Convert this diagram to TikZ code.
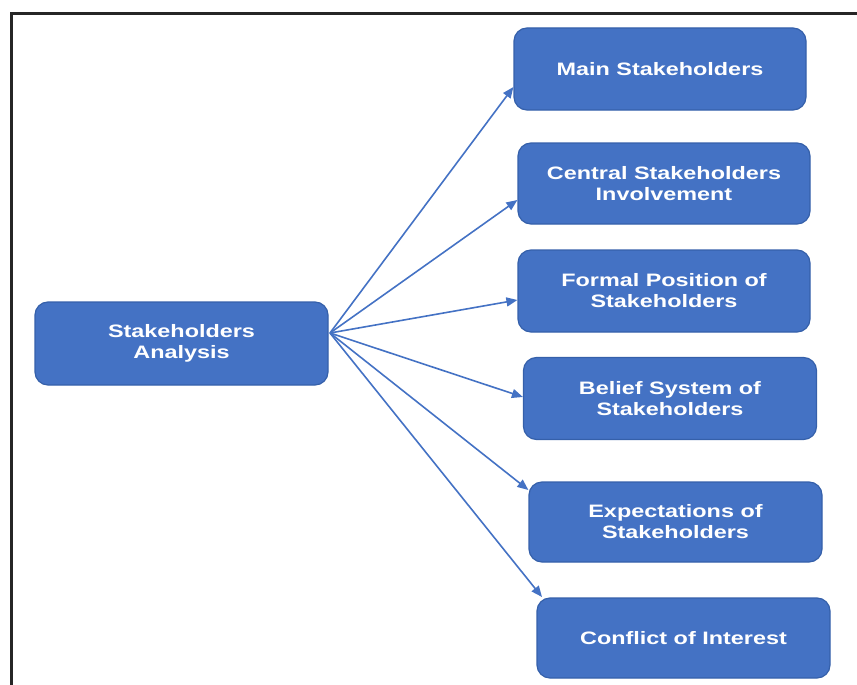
\documentclass[tikz,border=0pt]{standalone}
\usepackage{fontspec}
\newfontfamily\boxfont[FakeStretch=1.3]{Liberation Sans Bold}
\usetikzlibrary{arrows.meta}
\definecolor{boxfill}{HTML}{4472C4}
\definecolor{boxline}{HTML}{3560AA}
\definecolor{arrowcol}{HTML}{4472C4}
\tikzset{
  box/.style={draw=boxline, line width=1.2pt, fill=boxfill, rounded corners=13pt,
    text=white, font=\boxfont\fontsize{18}{21}\selectfont, align=center,
    minimum width=292pt, minimum height=82pt, inner sep=0pt},
  conn/.style={draw=arrowcol, line width=1.6pt,
    -{Triangle[length=11pt,width=9pt]}},
  frame/.style={draw=black!85, line width=2.2pt}
}
\begin{document}
\begin{tikzpicture}[x=1pt,y=-1pt]
\useasboundingbox (0,0) rectangle (857,685);
\draw[frame] (11.5,685) -- (11.5,13.5) -- (857,13.5);
\node[box, minimum width=293pt, minimum height=83pt] (sa) at (181.5,343.5) {Stakeholders\\Analysis};
\node[box] (main) at (660,69) {Main Stakeholders};
\node[box, minimum height=81pt] (central) at (664,183.5) {Central Stakeholders\\Involvement};
\node[box] (formal) at (664,291) {Formal Position of\\Stakeholders};
\node[box, minimum width=293pt] (belief) at (670,398.5) {Belief System of\\Stakeholders};
\node[box, minimum width=293pt, minimum height=80pt] (expect) at (675.5,522) {Expectations of\\Stakeholders};
\node[box, minimum width=293pt, minimum height=80pt] (conflict) at (683.5,638) {Conflict of Interest};
\coordinate (o) at (330,333);
\draw[conn] (o) -- (main.west |- 0,87);
\draw[conn] (o) -- (central.west |- 0,200);
\draw[conn] (o) -- (formal.west |- 0,300);
\draw[conn] (o) -- (belief.west |- 0,397);
\draw[conn] (o) -- (530,490 -| expect.west);
\draw[conn] (o) -- (542,597);
\end{tikzpicture}
\end{document}
